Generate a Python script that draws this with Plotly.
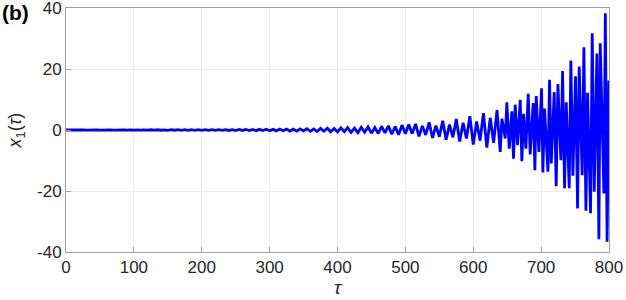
import plotly.graph_objects as go

# ---- data (oscillation extrema) ----
tau_early = [0, 5, 10, 15, 20, 25, 30, 35, 40, 45, 50, 55, 60, 65, 70, 75, 80, 85, 90, 95,
             100, 105, 110, 115, 120, 125, 130, 135, 140, 145, 150, 155, 160, 165, 170, 175,
             180, 185, 190, 195, 200, 205, 210, 215, 220, 225, 230, 235, 240, 245, 250, 255,
             260, 265, 270, 275, 280, 285, 290, 295, 300, 305, 310, 315, 320, 325, 330, 335,
             340, 345, 350, 355, 360, 365, 370, 375, 380, 385, 390, 395, 400, 405, 410, 415,
             420, 425, 430, 435, 440, 445, 450, 455, 460, 465, 470, 475, 480, 485, 490, 495,
             500, 505, 510, 515, 520, 525, 530, 535, 540, 545, 550, 555, 560, 565, 570, 575,
             580, 585, 590, 595, 600, 605, 610, 615, 620, 625, 630, 635]
x1_early = [0, 0.04, -0.05, 0.05, -0.04, 0.05, -0.05, 0.04, -0.05, 0.05, -0.05,
            0.06, -0.05, 0.05, -0.06, 0.06, -0.05, 0.06, -0.06, 0.07, -0.06,
            0.07, -0.07, 0.06, -0.07, 0.08, -0.07, 0.08, -0.08, 0.07, -0.09,
            0.09, -0.08, 0.1, -0.09, 0.1, -0.1, 0.09, -0.11, 0.11, -0.1,
            0.12, -0.12, 0.11, -0.13, 0.13, -0.12, 0.14, -0.15, 0.13, -0.16,
            0.17, -0.15, 0.18, -0.19, 0.16, -0.21, 0.22, -0.19, 0.24, -0.25,
            0.21, -0.28, 0.29, -0.24, 0.32, -0.34, 0.27, -0.37, 0.39, -0.31,
            0.42, -0.45, 0.36, -0.5, 0.52, -0.41, 0.57, -0.6, 0.47, -0.66,
            0.7, -0.55, 0.78, -0.8, 0.62, -0.88, 0.92, -0.7, 1.0, -1.05,
            0.82, -1.15, 1.2, -0.95, 1.35, -1.4, 1.1, -1.55, 1.6, -1.25,
            1.8, -1.2, 2.0, -2.1, 1.3, -1.6, 2.5, -2.6, 1.4, -2.2,
            3.0, -3.2, 1.8, -2.4, 3.6, -3.8, 2.4, -2.8, 4.5, -4.8,
            2.8, -3.5, 5.5, -5.8, 4.0, -4.2, 6.5]

tau_late = [639.7, 642.2, 647.1, 649.5, 653.0, 656.9, 659.3, 661.8, 665.2, 669.2, 671.6, 674.1,
            677.5, 681.0, 683.9, 688.3, 690.8, 692.8, 696.7, 700.6, 702.6, 705.0, 710.0, 712.4,
            714.9, 719.3, 722.2, 724.7, 729.1, 731.6, 734.5, 737.0, 741.4, 743.8, 746.8, 750.7,
            753.7, 756.1, 760.5, 763.0, 766.0, 768.4, 772.8, 775.3, 778.2, 782.2, 785.1, 787.1,
            792.5, 794.6, 797.2, 799.8, 800.0]
x1_late = [-7.2, 3.7, -2.8, 9.1, -6.1, 6.1, -9.4, 8.3, -5.0, 9.9, -10.2, 5.3,
           -6.1, 11.9, -8.0, 8.8, -13.2, 11.1, -7.2, 13.7, -13.9, 7.0, -13.7, 16.5,
           -11.0, 12.4, -18.4, 15.1, -9.9, 19.3, -19.1, 9.1, -19.1, 22.8, -15.0, 17.6,
           -25.7, 20.8, -14.8, 27.1, -26.5, 12.2, -27.3, 31.7, -20.2, 25.1, -35.8, 28.4,
           -20.8, 38.3, -36.6, 16.2, 13.0]

tau = tau_early + tau_late
x1 = x1_early + x1_late

x_ticks = [0, 100, 200, 300, 400, 500, 600, 700, 800]
x_ticktext = ["0", "100", "200", "300", "400", "500", "600", "700", "800"]
y_ticks = [-40, -20, 0, 20, 40]
y_ticktext = ["-40", "-20", "0", "20", "40"]

FONT = "Liberation Sans, Arial, sans-serif"
TICKCOL = "#262626"
AXCOL = "#a0a0a0"

fig = go.Figure()
fig.add_trace(go.Scatter(x=tau, y=x1, mode="lines",
                         line=dict(color="#0000ff", width=2.8),
                         showlegend=False, hoverinfo="skip"))

axis_common = dict(showline=True, linecolor=AXCOL, linewidth=1, mirror=True,
                   ticks="inside", ticklen=5, tickcolor=AXCOL, tickwidth=1,
                   showgrid=True, gridcolor="#ebebeb", gridwidth=1, zeroline=False,
                   automargin=False, ticklabeloverflow="allow",
                   tickfont=dict(family=FONT, size=17, color=TICKCOL))

fig.update_xaxes(range=[0, 800], tickvals=x_ticks, ticktext=x_ticktext,
                 title=dict(text="<i>τ</i>", font=dict(family=FONT, size=19, color=TICKCOL),
                            standoff=2),
                 **axis_common)
fig.update_yaxes(range=[-40, 40], tickvals=y_ticks, ticktext=y_ticktext,
                 title=dict(text="<i>x</i><sub>1</sub>(<i>τ</i>)",
                            font=dict(family=FONT, size=18, color=TICKCOL), standoff=10),
                 **axis_common)

fig.add_annotation(text="<b>(b)</b>", xref="paper", yref="paper", x=-0.122, y=1.035,
                   xanchor="left", yanchor="top", showarrow=False,
                   font=dict(family=FONT, size=21, color="#000000"))

fig.update_layout(width=626, height=300, margin=dict(l=66, r=17, t=8, b=48),
                  plot_bgcolor="white", paper_bgcolor="white")

fig.write_html("out.html", config={"displayModeBar": False},
               post_script="document.body.style.margin='0px';document.body.style.overflow='hidden';")
